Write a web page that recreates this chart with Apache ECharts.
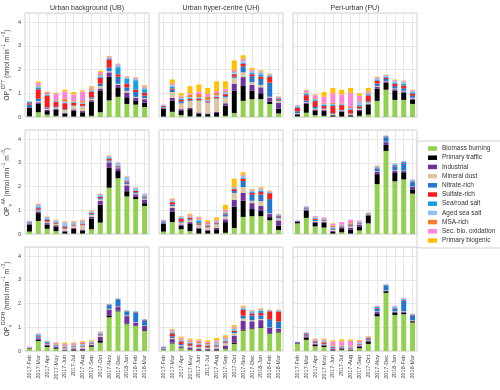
<!DOCTYPE html>
<html>
<head>
<meta charset="utf-8">
<script src="https://cdn.jsdelivr.net/npm/echarts@6/dist/echarts.min.js"></script>
<style>
  html, body { margin: 0; padding: 0; background: #fff; }
  #chart { width: 500px; height: 390px; }
</style>
</head>
<body>
<div id="chart"></div>
<script>
// categories
const months = ['2017-Feb', '2017-Mar', '2017-Apr', '2017-May', '2017-Jun', '2017-Jul', '2017-Aug',
  '2017-Sep', '2017-Oct', '2017-Nov', '2017-Dec', '2018-Jan', '2018-Feb', '2018-Mar'];
const sources = ['Biomass burning', 'Primary traffic', 'Industrial', 'Mineral dust', 'Nitrate-rich',
  'Sulfate-rich', 'Sea/road salt', 'Aged sea salt', 'MSA-rich', 'Sec. bio. oxidation', 'Primary biogenic'];
const sites = ['Urban background (UB)', 'Urban hyper-centre (UH)', 'Peri-urban (PU)'];
const assays = ['DTT', 'AA', 'DCFH'];

// one row per source (same order as sources), one value per month
const dttUB = [
  [0.03, 0.2, 0.1, 0.05, 0.02, 0.02, 0.02, 0.05, 0.2, 0.7, 0.85, 0.55, 0.52, 0.42],
  [0.37, 0.35, 0.15, 0.25, 0.12, 0.25, 0.18, 0.6, 0.9, 1.0, 0.37, 0.28, 0.18, 0.18],
  [0.02, 0.07, 0.05, 0.04, 0.04, 0.05, 0.05, 0.06, 0.1, 0.18, 0.13, 0.2, 0.1, 0.15],
  [0, 0.05, 0.05, 0.06, 0.12, 0.15, 0.2, 0.06, 0.1, 0.05, 0.05, 0.07, 0.05, 0.05],
  [0.1, 0.1, 0.05, 0.03, 0.03, 0.02, 0.02, 0.05, 0.1, 0.15, 0.3, 0.15, 0.2, 0.1],
  [0.06, 0.4, 0.5, 0.2, 0.25, 0.1, 0.08, 0.25, 0.25, 0.35, 0.1, 0.15, 0.1, 0.12],
  [0.05, 0.08, 0.03, 0.03, 0.03, 0.03, 0.02, 0.03, 0.05, 0.04, 0.3, 0.2, 0.4, 0.15],
  [0.03, 0.07, 0.04, 0.03, 0.04, 0.03, 0.04, 0.05, 0.07, 0.04, 0.1, 0.07, 0.08, 0.08],
  [0, 0.05, 0.04, 0.05, 0.12, 0.05, 0.06, 0.05, 0.05, 0.03, 0.02, 0.02, 0.02, 0.03],
  [0, 0.08, 0.04, 0.25, 0.3, 0.25, 0.4, 0.05, 0.08, 0.02, 0.02, 0.02, 0.02, 0.04],
  [0, 0.05, 0.02, 0.04, 0.08, 0.1, 0.05, 0.05, 0.05, 0.01, 0.01, 0.01, 0.01, 0.03]
];
const dttUH = [
  [0.02, 0.22, 0.08, 0.03, 0.02, 0.02, 0.02, 0.05, 0.17, 0.68, 0.75, 0.75, 0.55, 0.15],
  [0.33, 0.46, 0.2, 0.3, 0.13, 0.1, 0.15, 0.43, 0.93, 0.65, 0.35, 0.25, 0.1, 0.2],
  [0.03, 0.12, 0.05, 0.05, 0.04, 0.03, 0.05, 0.1, 0.3, 0.35, 0.25, 0.25, 0.15, 0.25],
  [0.02, 0.25, 0.25, 0.3, 0.5, 0.45, 0.55, 0.25, 0.25, 0.2, 0.12, 0.1, 0.05, 0.08],
  [0.02, 0.1, 0.08, 0.03, 0.02, 0.02, 0.02, 0.05, 0.05, 0.25, 0.25, 0.25, 0.6, 0.05],
  [0.04, 0.05, 0.06, 0.05, 0.05, 0.04, 0.05, 0.08, 0.1, 0.12, 0.08, 0.1, 0.25, 0.05],
  [0.02, 0.08, 0.04, 0.03, 0.03, 0.02, 0.02, 0.02, 0.02, 0.03, 0.05, 0.1, 0.03, 0.02],
  [0.02, 0.06, 0.05, 0.05, 0.03, 0.04, 0.05, 0.08, 0.08, 0.1, 0.08, 0.08, 0.05, 0.03],
  [0, 0.03, 0.05, 0.1, 0.15, 0.15, 0.1, 0.05, 0.03, 0.02, 0.02, 0.02, 0.02, 0.01],
  [0.02, 0.05, 0.04, 0.06, 0.1, 0.1, 0.08, 0.08, 0.05, 0.05, 0.04, 0.02, 0.01, 0.02],
  [0, 0.16, 0.1, 0.3, 0.3, 0.25, 0.41, 0.31, 0.4, 0.15, 0.08, 0.05, 0.02, 0.01]
];
const dttPU = [
  [0.03, 0.18, 0.08, 0.05, 0.02, 0.02, 0.02, 0.05, 0.1, 0.68, 1.15, 0.72, 0.72, 0.55],
  [0.08, 0.37, 0.2, 0.2, 0.05, 0.2, 0.05, 0.2, 0.42, 0.52, 0.3, 0.38, 0.3, 0.18],
  [0.03, 0.05, 0.04, 0.04, 0.02, 0.03, 0.03, 0.05, 0.04, 0.07, 0.05, 0.07, 0.06, 0.05],
  [0.02, 0.03, 0.04, 0.04, 0.04, 0.03, 0.03, 0.04, 0.05, 0.04, 0.02, 0.03, 0.03, 0.03],
  [0.08, 0.07, 0.06, 0.03, 0.03, 0.02, 0.02, 0.03, 0.05, 0.1, 0.08, 0.1, 0.1, 0.08],
  [0.15, 0.22, 0.25, 0.1, 0.3, 0.2, 0.15, 0.08, 0.25, 0.12, 0.05, 0.1, 0.12, 0.08],
  [0.05, 0.05, 0.04, 0.05, 0.05, 0.03, 0.03, 0.05, 0.05, 0.05, 0.04, 0.05, 0.07, 0.07],
  [0.03, 0.05, 0.06, 0.05, 0.04, 0.04, 0.04, 0.15, 0.04, 0.05, 0.05, 0.07, 0.08, 0.05],
  [0.01, 0.03, 0.03, 0.04, 0.05, 0.03, 0.05, 0.05, 0.04, 0.03, 0.02, 0.02, 0.02, 0.02],
  [0.02, 0.07, 0.12, 0.25, 0.4, 0.35, 0.6, 0.2, 0.05, 0.02, 0.01, 0.02, 0.02, 0.03],
  [0, 0.03, 0.03, 0.2, 0.22, 0.2, 0.2, 0.1, 0.13, 0.02, 0.01, 0.02, 0.01, 0.01]
];
const aaUB = [
  [0.1, 0.55, 0.22, 0.12, 0.02, 0.02, 0.02, 0.2, 0.48, 1.95, 2.35, 1.58, 1.47, 1.18],
  [0.3, 0.33, 0.18, 0.2, 0.08, 0.2, 0.13, 0.45, 0.75, 0.85, 0.3, 0.22, 0.1, 0.12],
  [0.03, 0.07, 0.06, 0.05, 0.04, 0.04, 0.04, 0.08, 0.17, 0.22, 0.12, 0.25, 0.1, 0.15],
  [0.01, 0.04, 0.04, 0.05, 0.08, 0.08, 0.18, 0.08, 0.06, 0.03, 0.03, 0.05, 0.04, 0.04],
  [0.02, 0.04, 0.03, 0.02, 0.02, 0.02, 0.02, 0.03, 0.05, 0.05, 0.03, 0.07, 0.05, 0.05],
  [0.03, 0.06, 0.07, 0.04, 0.06, 0.03, 0.04, 0.04, 0.05, 0.07, 0.03, 0.05, 0.05, 0.04],
  [0.02, 0.04, 0.03, 0.02, 0.03, 0.02, 0.02, 0.02, 0.03, 0.03, 0.02, 0.03, 0.03, 0.03],
  [0.05, 0.1, 0.08, 0.06, 0.15, 0.08, 0.08, 0.05, 0.07, 0.08, 0.12, 0.15, 0.1, 0.07],
  [0, 0.02, 0.01, 0.01, 0.01, 0.02, 0.03, 0.02, 0.02, 0.01, 0.01, 0.01, 0.01, 0.01],
  [0, 0.02, 0.01, 0.01, 0.02, 0.02, 0.02, 0.01, 0.01, 0, 0, 0.01, 0, 0.01],
  [0, 0.01, 0.01, 0.02, 0.02, 0.02, 0.02, 0.02, 0.01, 0.01, 0.01, 0.01, 0.01, 0]
];
const aaUH = [
  [0.1, 0.5, 0.2, 0.12, 0.02, 0.02, 0.02, 0.05, 0.25, 0.72, 0.75, 0.75, 0.58, 0.17],
  [0.33, 0.45, 0.15, 0.3, 0.2, 0.12, 0.18, 0.45, 0.9, 0.68, 0.3, 0.22, 0.13, 0.18],
  [0.03, 0.15, 0.05, 0.08, 0.05, 0.04, 0.06, 0.12, 0.28, 0.33, 0.25, 0.22, 0.13, 0.22],
  [0.02, 0.08, 0.08, 0.08, 0.1, 0.1, 0.15, 0.12, 0.3, 0.25, 0.1, 0.2, 0.03, 0.1],
  [0.03, 0.06, 0.04, 0.04, 0.03, 0.02, 0.03, 0.08, 0.08, 0.25, 0.25, 0.28, 0.6, 0.06],
  [0.02, 0.1, 0.12, 0.06, 0.05, 0.05, 0.03, 0.04, 0.08, 0.1, 0.08, 0.1, 0.25, 0.04],
  [0.02, 0.03, 0.03, 0.02, 0.12, 0.02, 0.02, 0.03, 0.02, 0.03, 0.04, 0.05, 0.03, 0.02],
  [0.03, 0.05, 0.04, 0.04, 0.04, 0.04, 0.04, 0.05, 0.05, 0.08, 0.06, 0.07, 0.04, 0.03],
  [0.01, 0.03, 0.02, 0.03, 0.04, 0.05, 0.04, 0.03, 0.02, 0.03, 0.02, 0.02, 0.01, 0.01],
  [0.01, 0.03, 0.01, 0.03, 0.06, 0.05, 0.03, 0.05, 0.02, 0.03, 0.02, 0.02, 0.01, 0.01],
  [0, 0.02, 0.01, 0.05, 0.02, 0.07, 0.1, 0.21, 0.33, 0.1, 0.03, 0.04, 0.02, 0.01]
];
const aaPU = [
  [0.45, 0.68, 0.32, 0.27, 0.02, 0.07, 0.02, 0.15, 0.45, 2.1, 3.5, 2.22, 2.3, 1.7],
  [0.07, 0.3, 0.15, 0.2, 0.07, 0.17, 0.15, 0.17, 0.33, 0.42, 0.25, 0.35, 0.3, 0.18],
  [0.02, 0.06, 0.05, 0.05, 0.04, 0.05, 0.1, 0.07, 0.02, 0.1, 0.12, 0.1, 0.05, 0.1],
  [0, 0.02, 0.03, 0.03, 0.04, 0.02, 0.05, 0.02, 0.02, 0.02, 0.02, 0.02, 0.02, 0.02],
  [0, 0.03, 0.05, 0.03, 0.03, 0.02, 0.03, 0.03, 0.02, 0.1, 0.18, 0.15, 0.3, 0.18],
  [0, 0.02, 0.04, 0.03, 0.02, 0.02, 0.05, 0.02, 0.02, 0.02, 0.02, 0.02, 0.02, 0.02],
  [0, 0.02, 0.03, 0.01, 0.03, 0.01, 0.02, 0.03, 0.01, 0.05, 0.03, 0.07, 0.05, 0.05],
  [0.03, 0.03, 0.03, 0.02, 0.04, 0.02, 0.03, 0.03, 0.01, 0.03, 0.02, 0.03, 0.03, 0.03],
  [0, 0, 0.01, 0.01, 0.06, 0.02, 0.05, 0.01, 0.01, 0.02, 0.01, 0.01, 0, 0],
  [0.01, 0.01, 0.04, 0.05, 0.08, 0.1, 0.1, 0.04, 0.01, 0.01, 0, 0, 0.01, 0.02],
  [0, 0, 0, 0, 0.02, 0, 0, 0, 0, 0.01, 0, 0, 0, 0]
];
const dcfhUB = [
  [0.1, 0.42, 0.17, 0.1, 0.02, 0.02, 0.02, 0.18, 0.35, 1.42, 1.67, 1.13, 1.05, 0.85],
  [0.02, 0.05, 0.04, 0.03, 0.02, 0.03, 0.02, 0.03, 0.1, 0.08, 0.03, 0.02, 0.02, 0.03],
  [0.02, 0.07, 0.06, 0.04, 0.02, 0.06, 0.06, 0.05, 0.15, 0.25, 0.15, 0.32, 0.13, 0.17],
  [0, 0.02, 0.02, 0.02, 0.05, 0.05, 0.08, 0.03, 0.05, 0.03, 0.02, 0.03, 0.02, 0.02],
  [0, 0.05, 0.03, 0.02, 0.02, 0.01, 0.02, 0.03, 0.04, 0.15, 0.28, 0.15, 0.4, 0.22],
  [0, 0.03, 0.02, 0.02, 0.03, 0.02, 0.02, 0.02, 0.03, 0.02, 0.02, 0.02, 0.02, 0.02],
  [0, 0.04, 0.04, 0.02, 0.02, 0.02, 0.02, 0.02, 0.02, 0.02, 0.03, 0.03, 0.02, 0.02],
  [0.02, 0.04, 0.03, 0.03, 0.04, 0.03, 0.05, 0.03, 0.05, 0.01, 0.02, 0.02, 0.01, 0.01],
  [0, 0.01, 0.01, 0.02, 0.03, 0.04, 0.05, 0.02, 0.01, 0, 0, 0, 0, 0],
  [0.02, 0.01, 0.01, 0.04, 0.06, 0.05, 0.05, 0.02, 0.01, 0, 0, 0, 0, 0],
  [0, 0, 0, 0.03, 0.05, 0.03, 0.03, 0.02, 0.01, 0, 0, 0, 0, 0]
];
const dcfhUH = [
  [0.05, 0.32, 0.12, 0.05, 0.02, 0.02, 0.02, 0.08, 0.3, 0.86, 0.92, 0.97, 0.72, 0.78],
  [0.01, 0.03, 0.02, 0.02, 0.02, 0.02, 0.02, 0.03, 0.05, 0.03, 0.03, 0.03, 0.02, 0.03],
  [0.03, 0.15, 0.06, 0.08, 0.05, 0.04, 0.06, 0.12, 0.3, 0.38, 0.3, 0.3, 0.23, 0.12],
  [0.02, 0.05, 0.05, 0.06, 0.07, 0.06, 0.08, 0.1, 0.1, 0.1, 0.05, 0.05, 0.02, 0.02],
  [0.02, 0.07, 0.05, 0.03, 0.02, 0.02, 0.02, 0.03, 0.05, 0.12, 0.2, 0.15, 0.35, 0.3],
  [0.02, 0.12, 0.1, 0.08, 0.08, 0.06, 0.04, 0.05, 0.05, 0.25, 0.08, 0.1, 0.33, 0.4],
  [0.02, 0.04, 0.04, 0.03, 0.02, 0.02, 0.02, 0.02, 0.02, 0.03, 0.05, 0.1, 0.02, 0.03],
  [0.02, 0.05, 0.04, 0.04, 0.05, 0.04, 0.1, 0.08, 0.08, 0.06, 0.06, 0.05, 0.02, 0.03],
  [0, 0.03, 0.04, 0.04, 0.05, 0.06, 0.04, 0.03, 0.03, 0.02, 0.01, 0.01, 0.01, 0.01],
  [0.01, 0.04, 0.04, 0.04, 0.05, 0.05, 0.05, 0.04, 0.04, 0.02, 0.01, 0.01, 0.01, 0.01],
  [0, 0.03, 0.05, 0.05, 0.06, 0.06, 0.1, 0.08, 0.07, 0.04, 0.02, 0.03, 0.01, 0.01]
];
const dcfhPU = [
  [0.3, 0.47, 0.2, 0.17, 0.02, 0.05, 0.02, 0.12, 0.3, 1.46, 2.45, 1.52, 1.55, 1.2],
  [0.02, 0.1, 0.06, 0.05, 0.02, 0.03, 0.02, 0.06, 0.1, 0.1, 0.07, 0.1, 0.07, 0.05],
  [0.05, 0.05, 0.05, 0.04, 0.04, 0.04, 0.03, 0.05, 0.05, 0.08, 0.02, 0.04, 0.04, 0.03],
  [0, 0.02, 0.02, 0.02, 0.02, 0.02, 0.02, 0.02, 0.02, 0.03, 0.02, 0.02, 0.02, 0.02],
  [0, 0.04, 0.04, 0.02, 0.02, 0.02, 0.02, 0.02, 0.03, 0.1, 0.2, 0.1, 0.45, 0.2],
  [0, 0.04, 0.04, 0.06, 0.04, 0.02, 0.02, 0.02, 0.04, 0.03, 0.01, 0.02, 0.02, 0.02],
  [0, 0.03, 0.02, 0.02, 0.03, 0.02, 0.02, 0.02, 0.02, 0.05, 0.02, 0.04, 0.03, 0.02],
  [0.02, 0.02, 0.02, 0.03, 0.04, 0.03, 0.04, 0.04, 0.02, 0.03, 0.02, 0.04, 0.03, 0.02],
  [0, 0.01, 0.01, 0.02, 0.05, 0.02, 0.04, 0.02, 0.01, 0.01, 0, 0, 0, 0],
  [0, 0.02, 0.04, 0.05, 0.12, 0.16, 0.2, 0.05, 0.02, 0.02, 0, 0.03, 0.03, 0.01],
  [0, 0, 0.02, 0.04, 0.05, 0.08, 0.06, 0.04, 0.02, 0, 0, 0, 0, 0]
];

const panelData = [[dttUB, dttUH, dttPU], [aaUB, aaUH, aaPU], [dcfhUB, dcfhUH, dcfhPU]];

// styling
const colors = ['#92d050', '#000000', '#7030a0', '#dbc6a1', '#1f77d4', '#ff1a1a',
  '#1a9fdb', '#95bff8', '#ff7c2a', '#ff82dc', '#ffc000'];
const FONT = "'Liberation Sans', Arial, sans-serif";
const gridLefts = [25, 159, 293];
const gridTops = [13, 130, 247];
const gridW = 124, gridH = 104;
const yMax = 4.38;

const grids = [], xAxes = [], yAxes = [], series = [];
for (let r = 0; r < 3; r++) {
  for (let c = 0; c < 3; c++) {
    const idx = r * 3 + c;
    grids.push({
      left: gridLefts[c], top: gridTops[r], width: gridW, height: gridH,
      show: true, borderColor: '#cfcfcf', borderWidth: 1, backgroundColor: '#fff'
    });
    xAxes.push({
      type: 'category', gridIndex: idx, data: months,
      axisLine: { show: false }, axisTick: { show: false, alignWithLabel: true },
      splitLine: { show: true, alignWithLabel: true, lineStyle: { color: '#e2e2e2', width: 0.8 } },
      axisLabel: { show: r === 2, rotate: 90, fontSize: 5.5, color: '#444', margin: 4, fontFamily: FONT, interval: 0 }
    });
    yAxes.push({
      type: 'value', gridIndex: idx, min: 0, max: yMax, interval: 1,
      axisLine: { show: false }, axisTick: { show: false },
      splitLine: { show: true, lineStyle: { color: '#e2e2e2', width: 0.8 } },
      axisLabel: { show: c === 0, fontSize: 5.5, color: '#444', margin: 4, fontFamily: FONT, showMaxLabel: false },
      name: c === 0 ? 'OP{sub|v}{sup|' + assays[r] + '} (nmol min{sup|\u22121} m{sup|\u22123})' : '',
      nameLocation: 'middle', nameRotate: 90, nameGap: 12,
      nameTextStyle: {
        fontSize: 6.5, color: '#333', fontFamily: FONT, lineHeight: 12,
        rich: {
          sup: { fontSize: 4.6, verticalAlign: 'top', lineHeight: 5, color: '#333', fontFamily: FONT },
          sub: { fontSize: 4.6, verticalAlign: 'bottom', lineHeight: 5, color: '#333', fontFamily: FONT }
        }
      }
    });
    const rows = panelData[r][c];
    sources.forEach((name, k) => {
      series.push({
        type: 'bar', name: name, stack: 'p' + idx, xAxisIndex: idx, yAxisIndex: idx,
        data: rows[k], barWidth: '56%', itemStyle: { color: colors[k] },
        emphasis: { disabled: true }
      });
    });
  }
}

const chart = echarts.init(document.getElementById('chart'), null, { renderer: 'canvas' });
chart.setOption({
  animation: false,
  backgroundColor: '#fff',
  grid: grids, xAxis: xAxes, yAxis: yAxes, series: series,
  legend: {
    data: sources.map((s, k) => ({ name: s, itemStyle: { color: colors[k] } })),
    orient: 'vertical', left: 417, top: 141,
    padding: [3, 20, 3, 11], itemGap: 0.2, itemWidth: 9, itemHeight: 4.5, icon: 'rect',
    borderColor: '#d0d0d0', borderWidth: 1, borderRadius: 3, backgroundColor: '#fff',
    textStyle: { fontSize: 6.5, color: '#333', fontFamily: FONT, lineHeight: 9 },
    selectedMode: false
  },
  graphic: sites.map((s, c) => ({
    type: 'text', x: gridLefts[c] + gridW / 2, y: 8,
    style: { text: s, textAlign: 'center', textVerticalAlign: 'middle', align: 'center', verticalAlign: 'middle',
      fontSize: 7, fill: '#333', fontFamily: FONT }
  }))
});
</script>
</body>
</html>
